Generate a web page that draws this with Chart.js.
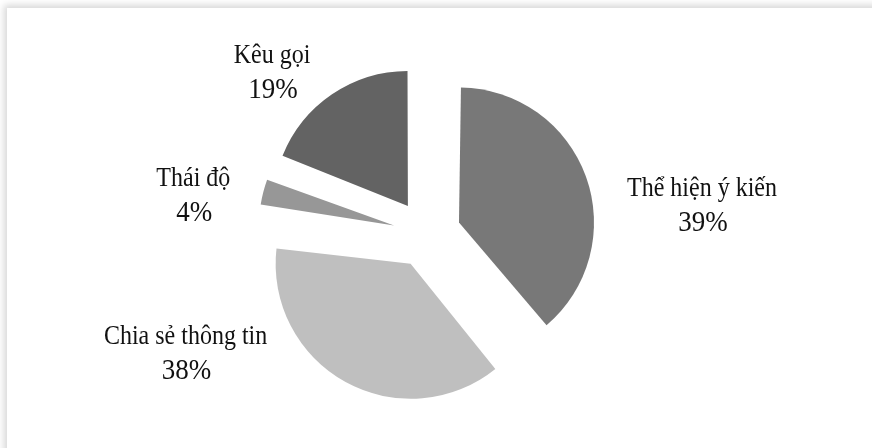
<!DOCTYPE html>
<html>
<head>
<meta charset="utf-8">
<script src="https://cdn.jsdelivr.net/npm/chart.js@4/dist/chart.umd.min.js"></script>
<style>
  html, body { margin: 0; padding: 0; background: #fff; width: 872px; height: 448px; overflow: hidden; }
  #khung {
    position: absolute; left: 7px; top: 8px; width: 900px; height: 480px;
    background: #fff; box-shadow: -3px -3px 7px rgba(0, 0, 0, 0.16);
  }
  #bieuDo { position: absolute; left: 0; top: 0; }
</style>
</head>
<body>
<div id="khung"></div>
<canvas id="bieuDo" width="872" height="448"></canvas>
<script>
// =============================
// DỮ LIỆU
// =============================
const nhan = ['Thể hiện ý kiến', 'Chia sẻ thông tin', 'Thái độ', 'Kêu gọi'];
const giaTri = [39, 38, 4, 19];
const mauLat = ['#787878', '#bfbfbf', '#979797', '#636363'];

const BAN_KINH = 135;
const TACH = 136;          // arc offset (Chart.js v4 dịch offset/4)
const DICH = TACH / 4;

// vị trí nhãn so với điểm giữa cung ngoài
const lechNhan = [[116, 19], [-160, -38], [-70, -6], [-60, -31]];

// giữ bán kính các lát bằng nhau dù có offset
const giuBanKinh = {
  id: 'giuBanKinh',
  afterDatasetUpdate(chart) {
    chart.getDatasetMeta(0).data.forEach(arc => {
      const fix = 1 - Math.sin(Math.min(Math.PI, arc.circumference || 0));
      arc.outerRadius = BAN_KINH - DICH * fix;
    });
  }
};

const veNhan = {
  id: 'veNhan',
  afterDatasetsDraw(chart) {
    const ctx = chart.ctx;
    const tong = giaTri.reduce((a, b) => a + b, 0);
    chart.getDatasetMeta(0).data.forEach((arc, i) => {
      const goc = (arc.startAngle + arc.endAngle) / 2;
      const d = DICH + BAN_KINH;
      const x = arc.x + Math.cos(goc) * d + lechNhan[i][0];
      const y = arc.y + Math.sin(goc) * d + lechNhan[i][1];
      ctx.save();
      ctx.fillStyle = '#111';
      ctx.textAlign = 'center';
      ctx.textBaseline = 'alphabetic';
      ctx.translate(x, y);
      ctx.scale(1, 1.1);
      ctx.font = '24px "Liberation Serif", "DejaVu Serif", serif';
      ctx.fillText(nhan[i], 0, 0);
      ctx.font = '27px "Liberation Serif", "DejaVu Serif", serif';
      ctx.fillText(Math.round(giaTri[i] / tong * 100) + '%', 1, 32);
      ctx.restore();
    });
  }
};

new Chart(document.getElementById('bieuDo'), {
  type: 'pie',
  data: {
    labels: nhan,
    datasets: [{
      data: giaTri,
      backgroundColor: mauLat,
      borderWidth: 0,
      offset: TACH,
      hoverOffset: 0,
      radius: BAN_KINH
    }]
  },
  options: {
    responsive: false,
    animation: false,
    layout: { padding: { left: 0, right: 18, top: 20, bottom: 0 } },
    plugins: {
      legend: { display: false },
      tooltip: { enabled: false }
    }
  },
  plugins: [giuBanKinh, veNhan]
});
</script>
</body>
</html>
